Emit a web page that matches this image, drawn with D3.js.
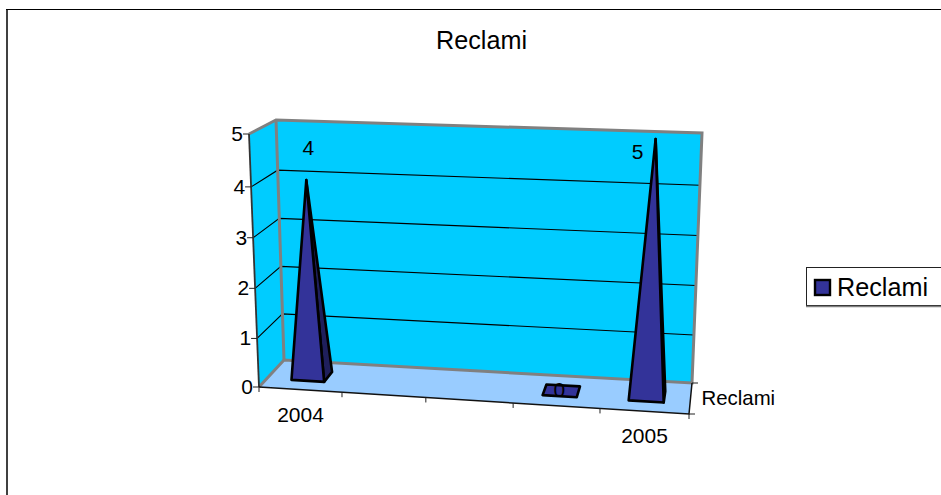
<!DOCTYPE html>
<html><head><meta charset="utf-8">
<script src="https://cdn.jsdelivr.net/npm/d3@7"></script>
<style>html,body{margin:0;padding:0;background:#fff}svg{display:block}text{font-family:"Liberation Sans",Arial,sans-serif;fill:#000}</style>
</head><body><svg id="c" width="941" height="495"></svg>
<script>
const categories = ["2004", "", "", "", "2005"];
const seriesName = "Reclami";
const values = [4, null, null, 0, 5];
const yTicks = [0, 1, 2, 3, 4, 5];
const title = "Reclami";

const W = 941, H = 495;
const svg = d3.select("#c");

const corners = {
  fb: { l: [259, 387], r: [689, 414] },
  ft: { l: [249, 134], r: [700, 148] },
  bb: { l: [284, 360], r: [692, 383] },
  bt: { l: [276, 120], r: [702, 133] }
};
const n = categories.length;
const xBand = d3.scaleBand().domain(d3.range(n)).range([0, n]);
const xFrac = d3.scaleLinear().domain(d3.range(n + 1)).range([0, 0.193, 0.388, 0.591, 0.793, 1]);
const yFrac = d3.scaleLinear().domain(yTicks).range([0, 0.192, 0.39, 0.59, 0.791, 1]);
const mix = (a, b, t) => [a[0] + (b[0] - a[0]) * t, a[1] + (b[1] - a[1]) * t];
function project(pos, val, w) {
  const u = xFrac(pos), v = yFrac(val);
  const f = mix(mix(corners.fb.l, corners.fb.r, u), mix(corners.ft.l, corners.ft.r, u), v);
  const b = mix(mix(corners.bb.l, corners.bb.r, u), mix(corners.bt.l, corners.bt.r, u), v);
  return mix(f, b, w);
}
const poly = pts => "M" + pts.map(p => p.map(k => k.toFixed(2)).join(",")).join("L") + "Z";
const seg = pts => "M" + pts.map(p => p.map(k => k.toFixed(2)).join(",")).join("L");
const topV = yTicks[yTicks.length - 1];

// chart frame
svg.append("path").attr("d", `M7,${H}V10`).attr("fill", "none").attr("stroke", "#404040").attr("stroke-width", 2);
svg.append("path").attr("d", `M6,9.5H${W}`).attr("fill", "none").attr("stroke", "#000").attr("stroke-width", 1);

// title
svg.append("text").attr("x", 481.5).attr("y", 48.5).attr("text-anchor", "middle").attr("font-size", 25.2).text(title);

// walls and floor
svg.append("path").attr("d", poly([project(0,0,0), project(0,topV,0), project(0,topV,1), project(0,0,1)])).attr("fill", "#00CCFF");
svg.append("path").attr("d", poly([project(0,0,1), project(0,topV,1), project(n,topV,1), project(n,0,1)])).attr("fill", "#00CCFF");
svg.append("path").attr("d", poly([project(0,0,0), project(0,0,1), project(n,0,1), project(n,0,0)])).attr("fill", "#99CCFF");

// grid lines
yTicks.filter(t => t > 0 && t < topV).forEach(t => {
  svg.append("path").attr("d", seg([project(0,t,0), project(0,t,1), project(n,t,1)]))
    .attr("fill", "none").attr("stroke", "#000").attr("stroke-width", 1.1);
});
// grey wall edges
svg.append("path").attr("d", seg([project(0,topV,0), project(0,topV,1), project(n,topV,1), project(n,0,1), project(0,0,1), project(0,0,0)]))
  .attr("fill", "none").attr("stroke", "#808080").attr("stroke-width", 3);
svg.append("path").attr("d", seg([project(0,0,1), project(0,topV,1)]))
  .attr("fill", "none").attr("stroke", "#808080").attr("stroke-width", 3);

// axes
const axisStroke = "#222";
svg.append("path").attr("d", seg([project(0,0,0), project(0,topV,0)])).attr("fill", "none").attr("stroke", "#333").attr("stroke-width", 1.8);
yTicks.forEach(t => {
  const p = project(0,t,0);
  svg.append("path").attr("d", `M${p[0]-6},${p[1]}H${p[0]}`).attr("stroke", axisStroke).attr("stroke-width", 1);
  svg.append("text").attr("x", p[0]-6).attr("y", p[1]+7).attr("text-anchor", "end").attr("font-size", 21).text(t);
});
svg.append("path").attr("d", seg([project(0,0,0), project(n,0,0), project(n,0,1)])).attr("fill", "none").attr("stroke", "#111").attr("stroke-width", 1.5);
d3.range(n + 1).forEach(i => {
  const p = project(i, 0, 0);
  svg.append("path").attr("d", `M${p[0]},${p[1]}v5`).attr("stroke", axisStroke).attr("stroke-width", 1);
});
categories.forEach((c, i) => {
  if (!c) return;
  const p = project(xBand(i) + xBand.bandwidth() / 2, 0, 0);
  svg.append("text").attr("x", p[0]).attr("y", p[1]+32).attr("text-anchor", "middle").attr("font-size", 21).text(c);
});
// depth axis
const dr0 = project(n,0,0), dr1 = project(n,0,1);
[dr0, dr1].forEach(p => svg.append("path").attr("d", `M${p[0]},${p[1]}h6`).attr("stroke", axisStroke).attr("stroke-width", 1));
svg.append("text").attr("x", 701.5).attr("y", 405).attr("font-size", 20.4).text(seriesName);

// pyramids
const barFrac = 0.4, wNear = 0.32, wFar = 0.68;
const labelOffset = { 0: [2, -25], 3: [-2, 6], 4: [-18, 20] };
values.map((v, i) => ({ v, i })).filter(d => d.v !== null).forEach(({ v, i }) => {
  const c = xBand(i) + xBand.bandwidth() / 2;
  const hw = xBand.bandwidth() * barFrac / 2;
  const fl = project(c-hw, 0, wNear), fr = project(c+hw, 0, wNear),
        bl = project(c-hw, 0, wFar), br = project(c+hw, 0, wFar),
        apex = project(c, v, 0.5);
  const g = svg.append("g").attr("stroke", "#000").attr("stroke-width", 2.6).attr("stroke-linejoin", "round");
  if (v === 0) {
    g.append("path").attr("d", poly([fl, fr, br, bl])).attr("fill", "#333399");
  } else {
    g.append("path").attr("d", poly([fr, br, apex])).attr("fill", "#1F1F5C");
    g.append("path").attr("d", poly([fl, fr, apex])).attr("fill", "#333399");
  }
  svg.append("text").attr("x", apex[0] + labelOffset[i][0]).attr("y", apex[1] + labelOffset[i][1])
    .attr("text-anchor", "middle").attr("font-size", 21).text(v);
});

// legend
svg.append("rect").attr("x", 806.5).attr("y", 267.5).attr("width", 160).attr("height", 38).attr("fill", "#fff").attr("stroke", "#222").attr("stroke-width", 1);
svg.append("path").attr("d", "M806,306.5H941").attr("stroke", "#808080").attr("stroke-width", 1.5);
svg.append("rect").attr("x", 815).attr("y", 280).attr("width", 15).attr("height", 15).attr("fill", "#333399").attr("stroke", "#000").attr("stroke-width", 2.4);
svg.append("text").attr("x", 837).attr("y", 295.5).attr("font-size", 25.2).text(seriesName);
</script></body></html>
